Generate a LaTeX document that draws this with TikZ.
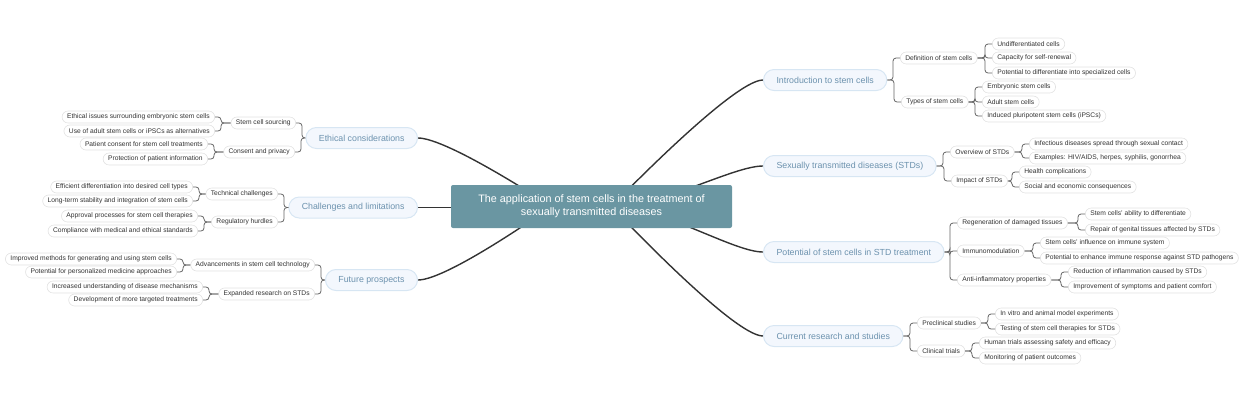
\documentclass[tikz,border=0pt]{standalone}
\usepackage{fontspec}
\setmainfont{Liberation Sans}
\usetikzlibrary{backgrounds}
\definecolor{rootfill}{RGB}{106,150,162}
\definecolor{topicfill}{RGB}{243,247,253}
\definecolor{topicline}{RGB}{215,230,243}
\definecolor{topictext}{RGB}{108,146,174}
\definecolor{pillline}{RGB}{226,226,226}
\definecolor{pilltext}{RGB}{51,51,51}
\definecolor{trunkcol}{RGB}{51,51,51}
\definecolor{branchcol}{RGB}{100,100,100}
\begin{document}
\begin{tikzpicture}[x=1pt,y=-1pt,
    root/.style={fill=rootfill,rounded corners=2pt,text=white,font=\fontsize{10.8}{13.3}\selectfont,align=center,minimum width=281pt,minimum height=43pt,inner sep=0pt},
    topic/.style={draw=topicline,line width=1pt,fill=topicfill,text=topictext,font=\fontsize{8.8}{10}\selectfont,rounded corners=10.5pt,minimum height=21pt,inner xsep=13pt,inner ysep=0pt},
    pill/.style={draw=pillline,line width=0.6pt,fill=white,text=pilltext,font=\fontsize{6.7}{8}\selectfont,rounded corners=6pt,minimum height=12pt,inner xsep=5pt,inner ysep=0pt},
    trunk/.style={trunkcol,line width=1.4pt},
    branch/.style={branchcol,line width=0.8pt,rounded corners=3pt}]

\useasboundingbox (0,0) rectangle (1240,400);

\node (root) [root] at (591.5,206.5) {The application of stem cells in the treatment of\\sexually transmitted diseases};

% right side
\node (intro) [topic,anchor=west] at (763,80) {Introduction to stem cells};
\node (stds) [topic,anchor=west] at (763,166) {Sexually transmitted diseases (STDs)};
\node (potential) [topic,anchor=west] at (763,252) {Potential of stem cells in STD treatment};
\node (current) [topic,anchor=west] at (763,336) {Current research and studies};

\node (definition) [pill,anchor=west] at (900,58) {Definition of stem cells};
\node (types) [pill,anchor=west] at (901,102) {Types of stem cells};
\node (overview) [pill,anchor=west] at (950,152) {Overview of STDs};
\node (impact) [pill,anchor=west] at (951,181) {Impact of STDs};
\node (regen) [pill,anchor=west] at (957,223) {Regeneration of damaged tissues};
\node (immuno) [pill,anchor=west] at (957,251) {Immunomodulation};
\node (antiinf) [pill,anchor=west] at (957,280) {Anti-inflammatory properties};
\node (preclin) [pill,anchor=west] at (917,323) {Preclinical studies};
\node (clinical) [pill,anchor=west] at (917,351) {Clinical trials};

\node (undiff) [pill,anchor=west] at (992,44) {Undifferentiated cells};
\node (renewal) [pill,anchor=west] at (992,58) {Capacity for self-renewal};
\node (specialized) [pill,anchor=west] at (992,73) {Potential to differentiate into specialized cells};
\node (embryonic) [pill,anchor=west] at (982,87) {Embryonic stem cells};
\node (adult) [pill,anchor=west] at (982,102) {Adult stem cells};
\node (ipsc) [pill,anchor=west] at (982,116) {Induced pluripotent stem cells (iPSCs)};
\node (infectious) [pill,anchor=west] at (1029,144) {Infectious diseases spread through sexual contact};
\node (examples) [pill,anchor=west] at (1029,158) {Examples: HIV/AIDS, herpes, syphilis, gonorrhea};
\node (health) [pill,anchor=west] at (1019,172) {Health complications};
\node (social) [pill,anchor=west] at (1019,187) {Social and economic consequences};
\node (ability) [pill,anchor=west] at (1085,214) {Stem cells' ability to differentiate};
\node (repair) [pill,anchor=west] at (1085,230) {Repair of genital tissues affected by STDs};
\node (influence) [pill,anchor=west] at (1040,243) {Stem cells' influence on immune system};
\node (enhance) [pill,anchor=west] at (1040,258) {Potential to enhance immune response against STD pathogens};
\node (reduction) [pill,anchor=west] at (1068,272) {Reduction of inflammation caused by STDs};
\node (improvement) [pill,anchor=west] at (1068,287) {Improvement of symptoms and patient comfort};
\node (invitro) [pill,anchor=west] at (995,314) {In vitro and animal model experiments};
\node (testing) [pill,anchor=west] at (995,329) {Testing of stem cell therapies for STDs};
\node (human) [pill,anchor=west] at (979,343) {Human trials assessing safety and efficacy};
\node (monitoring) [pill,anchor=west] at (979,358) {Monitoring of patient outcomes};

% left side
\node (ethics) [topic,anchor=east] at (418,138) {Ethical considerations};
\node (challenges) [topic,anchor=east] at (418,207.5) {Challenges and limitations};
\node (future) [topic,anchor=east] at (418,280) {Future prospects};

\node (sourcing) [pill,anchor=east] at (296,123) {Stem cell sourcing};
\node (consent) [pill,anchor=east] at (295,152) {Consent and privacy};
\node (technical) [pill,anchor=east] at (278,194) {Technical challenges};
\node (regulatory) [pill,anchor=east] at (278,222) {Regulatory hurdles};
\node (advances) [pill,anchor=east] at (315,265) {Advancements in stem cell technology};
\node (expanded) [pill,anchor=east] at (315,294) {Expanded research on STDs};

\node (embryoissues) [pill,anchor=east] at (215,117) {Ethical issues surrounding embryonic stem cells};
\node (alternatives) [pill,anchor=east] at (215,131) {Use of adult stem cells or iPSCs as alternatives};
\node (patientconsent) [pill,anchor=east] at (208,144) {Patient consent for stem cell treatments};
\node (protection) [pill,anchor=east] at (208,159) {Protection of patient information};
\node (efficient) [pill,anchor=east] at (193,187) {Efficient differentiation into desired cell types};
\node (stability) [pill,anchor=east] at (193,201) {Long-term stability and integration of stem cells};
\node (approval) [pill,anchor=east] at (198,216) {Approval processes for stem cell therapies};
\node (compliance) [pill,anchor=east] at (198,231) {Compliance with medical and ethical standards};
\node (improved) [pill,anchor=east] at (177,259) {Improved methods for generating and using stem cells};
\node (personalized) [pill,anchor=east] at (177,272) {Potential for personalized medicine approaches};
\node (understanding) [pill,anchor=east] at (203,287) {Increased understanding of disease mechanisms};
\node (targeted) [pill,anchor=east] at (203,300) {Development of more targeted treatments};

\begin{scope}[on background layer]
    % main curves
    \foreach \t in {intro,current}
        \draw[trunk] ([xshift=20pt]root.center) .. controls +(0,0) and +(-30,0) .. (\t.west);
    \foreach \t in {stds,potential}
        \draw[trunk] ([xshift=20pt]root.center) .. controls +(50,0) and +(-30,0) .. (\t.west);
    \foreach \t in {ethics,future}
        \draw[trunk] ([xshift=-40pt]root.center) .. controls +(0,0) and +(30,0) .. (\t.east);
    \draw[trunk] (root.center |- challenges.east) -- (challenges.east);
\end{scope}

% right brackets
\foreach \p/\c in {intro/definition,intro/types,stds/overview,stds/impact,potential/regen,potential/immuno,potential/antiinf,current/preclin,current/clinical,
    definition/undiff,definition/renewal,definition/specialized,types/embryonic,types/adult,types/ipsc,
    overview/infectious,overview/examples,impact/health,impact/social,
    regen/ability,regen/repair,immuno/influence,immuno/enhance,antiinf/reduction,antiinf/improvement,
    preclin/invitro,preclin/testing,clinical/human,clinical/monitoring}
    \draw[branch] (\p.east) -| ([xshift=-7pt]\c.west) -- (\c.west);

% left brackets
\foreach \p/\c in {ethics/sourcing,ethics/consent,challenges/technical,challenges/regulatory,future/advances,future/expanded,
    sourcing/embryoissues,sourcing/alternatives,consent/patientconsent,consent/protection,
    technical/efficient,technical/stability,regulatory/approval,regulatory/compliance,
    advances/improved,advances/personalized,expanded/understanding,expanded/targeted}
    \draw[branch] (\p.west) -| ([xshift=6pt]\c.east) -- (\c.east);

\end{tikzpicture}
\end{document}
